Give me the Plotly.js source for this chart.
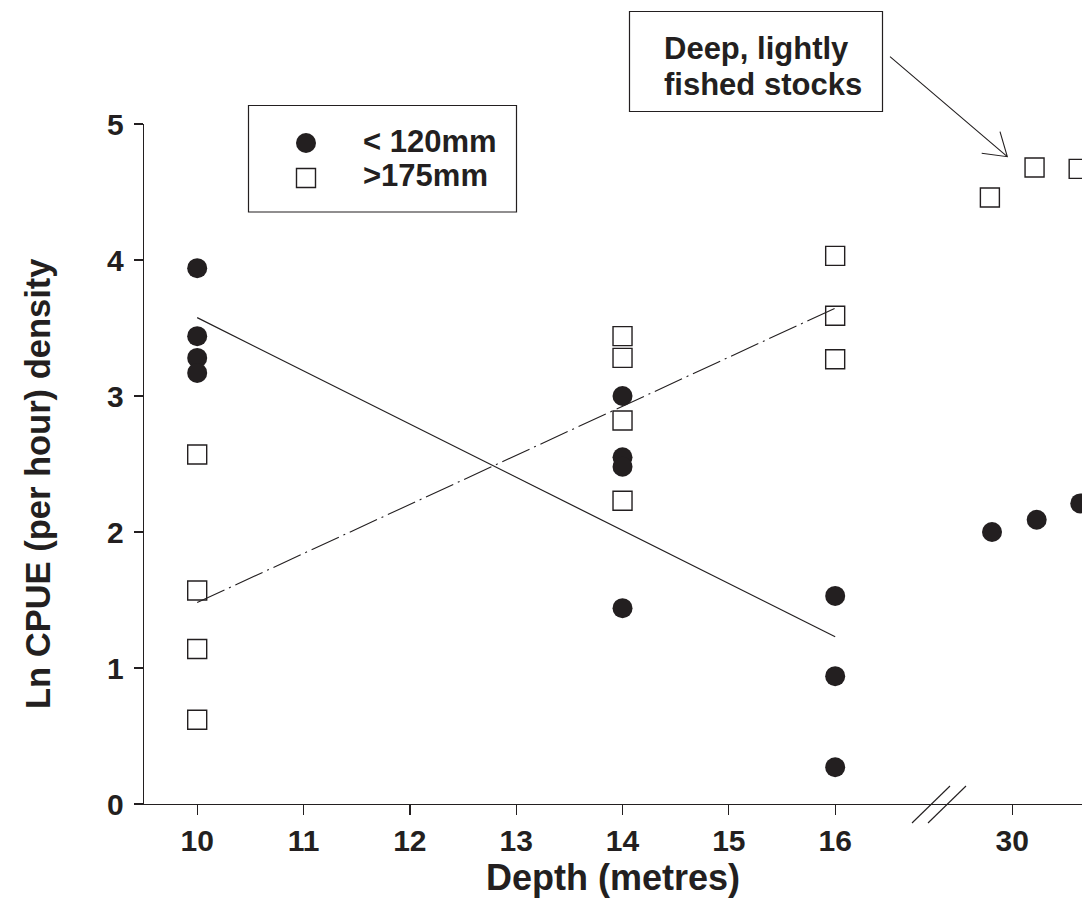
<!DOCTYPE html>
<html><head><meta charset="utf-8">
<script src="https://cdn.plot.ly/plotly-3.0.1.min.js"></script>
<style>
html,body{margin:0;padding:0;background:#fff;}
#chart{width:1082px;height:920px;}
</style></head><body><div id="chart"></div>
<script>
// ---------------- data ----------------
const seriesNames = ['< 120mm', '>175mm'];
const depthSmall = [10, 10, 10, 10, 14, 14, 14, 14, 16, 16, 16, 30, 30, 30];
const cpueSmall  = [3.94, 3.44, 3.28, 3.17, 3.00, 2.55, 2.48, 1.44, 1.53, 0.94, 0.27, 2.00, 2.09, 2.21];
const depthLarge = [10, 10, 10, 10, 14, 14, 14, 14, 16, 16, 16, 30, 30, 30];
const cpueLarge  = [2.57, 1.57, 1.14, 0.62, 3.44, 3.28, 2.82, 2.23, 4.03, 3.59, 3.27, 4.46, 4.68, 4.67];
const tickDepths = [10, 11, 12, 13, 14, 15, 16, 30];
const tickLabels = ['10', '11', '12', '13', '14', '15', '16', '30'];
const yTicks = [0, 1, 2, 3, 4, 5];
const noteLines = ['Deep, lightly', 'fished stocks'];
const xTitle = 'Depth (metres)';
const yTitle = 'Ln CPUE (per hour) density';

// ---------------- layout constants ----------------
const ink = '#231f20';
const FONT = '"Liberation Sans", Arial, Helvetica, sans-serif';
const W = 1082, H = 920;
const PL = 144, PT = 124, PW = 938, PH = 680;
const UNIT = 106.33;                    // px per metre on the shallow segment
const BREAK_AFTER = 16, DEEP_AXIS_POS = 17.665, DEEP_DEPTH = 30;
const deepSpreadSmall = [-0.19, 0.23, 0.64];
const deepSpreadLarge = [-0.21, 0.21, 0.625];

function axisPos(d) { return d <= BREAK_AFTER ? d : DEEP_AXIS_POS + (d - DEEP_DEPTH); }
function spreadPos(depths, spread) {
  let k = 0;
  return depths.map(d => d <= BREAK_AFTER ? d : axisPos(d) + spread[k++]);
}
function fitLine(xs, ys) {
  const px = [], py = [];
  xs.forEach((x, i) => { if (x <= BREAK_AFTER) { px.push(x); py.push(ys[i]); } });
  const n = px.length;
  const mx = px.reduce((a, b) => a + b, 0) / n, my = py.reduce((a, b) => a + b, 0) / n;
  let sxy = 0, sxx = 0;
  px.forEach((x, i) => { sxy += (x - mx) * (py[i] - my); sxx += (x - mx) * (x - mx); });
  const b = sxy / sxx, a = my - b * mx;
  const x0 = Math.min(...px), x1 = Math.max(...px);
  return { x: [x0, x1], y: [a + b * x0, a + b * x1] };
}
const fx = p => (p - PL) / PW;
const fy = p => (PT + PH - p) / PH;

const fitS = fitLine(depthSmall, cpueSmall);
const fitL = fitLine(depthLarge, cpueLarge);

const traces = [
  { type: 'scatter', mode: 'markers', name: seriesNames[0], showlegend: false,
    x: spreadPos(depthSmall, deepSpreadSmall), y: cpueSmall, cliponaxis: false,
    marker: { symbol: 'circle', size: 20, color: ink, line: { width: 0 } } },
  { type: 'scatter', mode: 'markers', name: seriesNames[1], showlegend: false,
    x: spreadPos(depthLarge, deepSpreadLarge), y: cpueLarge, cliponaxis: false,
    marker: { symbol: 'square', size: 19, color: '#ffffff', line: { width: 1.4, color: ink } } },
  { type: 'scatter', mode: 'lines', name: seriesNames[0] + ' fit', showlegend: false,
    x: fitS.x, y: fitS.y, line: { color: ink, width: 1.2 } },
  { type: 'scatter', mode: 'lines', name: seriesNames[1] + ' fit', showlegend: false,
    x: fitL.x, y: fitL.y, line: { color: ink, width: 1.1, dash: '30px,5px,2px,5px' } }
];

const shapes = [];
// axis break marks
[931, 947].forEach(cx => {
  shapes.push({ type: 'line', xref: 'paper', yref: 'paper',
    x0: fx(cx - 19), y0: fy(823), x1: fx(cx + 19), y1: fy(786),
    line: { color: ink, width: 1.1 } });
});
// legend box
shapes.push({ type: 'rect', xref: 'paper', yref: 'paper',
  x0: fx(248.5), x1: fx(516.5), y0: fy(212), y1: fy(105.5),
  line: { color: ink, width: 1.2 }, fillcolor: 'rgba(0,0,0,0)' });
shapes.push({ type: 'circle', xref: 'paper', yref: 'paper',
  x0: fx(296), x1: fx(316), y0: fy(153), y1: fy(133),
  line: { width: 0 }, fillcolor: ink });
shapes.push({ type: 'rect', xref: 'paper', yref: 'paper',
  x0: fx(296.5), x1: fx(315.5), y0: fy(187.5), y1: fy(168.5),
  line: { color: ink, width: 1.4 }, fillcolor: '#ffffff' });
// note box
shapes.push({ type: 'rect', xref: 'paper', yref: 'paper',
  x0: fx(629.5), x1: fx(882.5), y0: fy(111.5), y1: fy(11.5),
  line: { color: ink, width: 1.2 }, fillcolor: 'rgba(0,0,0,0)' });
// arrow
shapes.push({ type: 'path', xref: 'paper', yref: 'paper',
  path: `M${fx(890)},${fy(56.7)} L${fx(1007.3)},${fy(156.7)} M${fx(981.7)},${fy(153.3)} L${fx(1007.3)},${fy(156.7)} L${fx(1000)},${fy(131.7)}`,
  line: { color: ink, width: 1.1 } });

const bold = (size) => ({ family: FONT, size, color: ink, weight: 'bold' });
const txt = (text, x, y, size) => ({ text, xref: 'paper', yref: 'paper', x: fx(x), y: fy(y),
  xanchor: 'left', yanchor: 'middle', showarrow: false, font: bold(size) });

const annotations = [
  txt(seriesNames[0], 361, 141, 31),
  txt(seriesNames[1], 361, 176, 31),
  txt(noteLines[0], 662, 48.5, 31),
  txt(noteLines[1], 662, 84.5, 31),
  // y-axis title
  { text: yTitle, xref: 'paper', yref: 'paper', x: fx(38), y: fy(484),
    xanchor: 'center', yanchor: 'middle', textangle: -90, showarrow: false, font: bold(34.5) }
];

const axisFont = bold(30);
const layout = {
  width: W, height: H,
  margin: { l: PL, r: W - PL - PW, t: PT, b: H - PT - PH, pad: 0 },
  paper_bgcolor: '#ffffff', plot_bgcolor: '#ffffff',
  showlegend: false,
  font: { family: FONT, color: ink },
  xaxis: {
    range: [10 - (197.2 - PL) / UNIT, 10 - (197.2 - PL) / UNIT + PW / UNIT],
    tickmode: 'array', tickvals: tickDepths.map(axisPos), ticktext: tickLabels,
    ticks: 'outside', ticklen: 10, tickwidth: 1.3, tickcolor: ink,
    showline: true, linecolor: ink, linewidth: 1.3, showgrid: false, zeroline: false,
    tickfont: axisFont,
    title: { text: xTitle, font: bold(36), standoff: 5 }
  },
  yaxis: {
    range: [0, 5], tickmode: 'array', tickvals: yTicks,
    ticks: 'outside', ticklen: 9, tickwidth: 1.3, tickcolor: ink,
    showline: true, linecolor: ink, linewidth: 1.3, showgrid: false, zeroline: false,
    tickfont: axisFont, ticklabelstandoff: 4
  },
  shapes, annotations
};

Plotly.newPlot('chart', traces, layout, { displayModeBar: false, staticPlot: true });
</script></body></html>
